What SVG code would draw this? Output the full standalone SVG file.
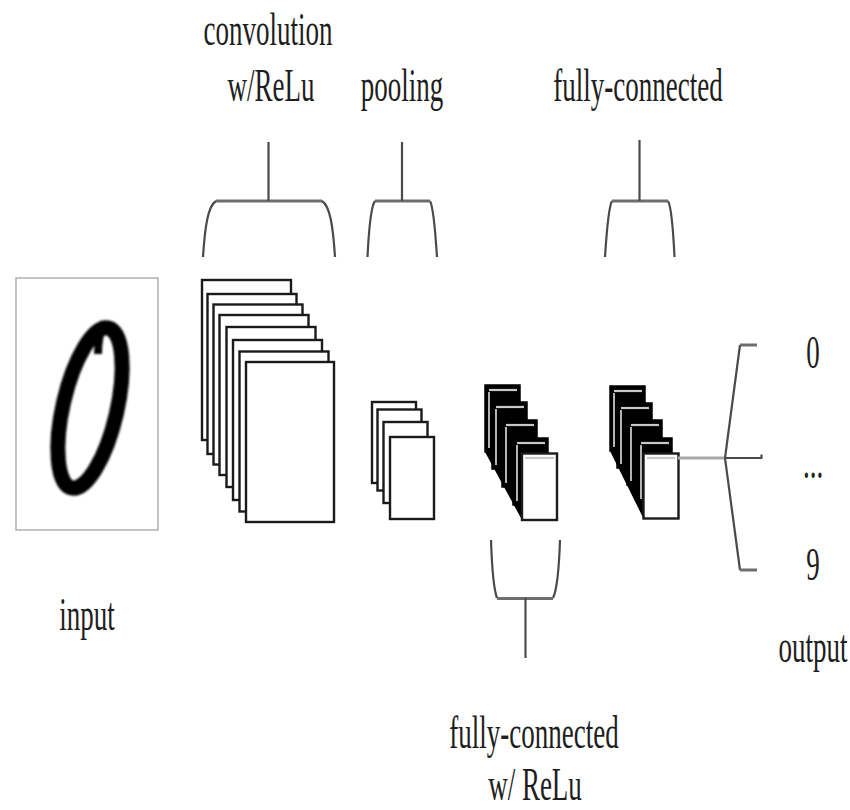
<svg xmlns="http://www.w3.org/2000/svg" width="850" height="810" viewBox="0 0 850 810">
  <style>
    .lbl { font-family: "Liberation Serif", "Times New Roman", serif; font-size: 27px; fill: #1e1e1e; text-anchor: middle; }
    .card { fill: #ffffff; stroke: #1a1a1a; stroke-width: 2.4; }
    .dark { fill: #000000; stroke: #000000; stroke-width: 1.5; }
    .lid { stroke: #c8c8c8; stroke-width: 2.2; }
    .edge { stroke: #ffffff; stroke-width: 1.4; }
    .brace { fill: none; stroke: #4a4a4a; stroke-width: 2.2; stroke-linejoin: round; }
    .bar { fill: none; stroke: #6e6e6e; stroke-width: 3; }
  </style>
  <defs>
    <filter id="soft" x="-20%" y="-20%" width="140%" height="140%">
      <feGaussianBlur stdDeviation="1.3"/>
    </filter>
  </defs>

  <rect width="850" height="810" fill="#ffffff"/>

  <!-- input image with handwritten zero -->
  <g id="input">
    <rect x="16" y="278" width="142" height="252" fill="#ffffff" stroke="#b4b4b4" stroke-width="1.6"/>
    <g filter="url(#soft)">
      <ellipse cx="90" cy="408" rx="27" ry="82" transform="rotate(13 90 408)" fill="none" stroke="#000" stroke-width="15"/>
      <path d="M104 322 Q98 336 98 354" fill="none" stroke="#000" stroke-width="8"/>
    </g>
    <text class="lbl" transform="translate(87,630) scale(1,1.7)">input</text>
  </g>

  <!-- convolution feature maps -->
  <g id="conv">
    <rect class="card" x="202" y="280" width="89" height="160"/>
    <rect class="card" x="207.5" y="294" width="89" height="160"/>
    <rect class="card" x="213.5" y="304.5" width="89" height="160"/>
    <rect class="card" x="219.5" y="315" width="89" height="160"/>
    <rect class="card" x="226.5" y="327" width="89" height="160"/>
    <rect class="card" x="233" y="340" width="89" height="160"/>
    <rect class="card" x="239.5" y="351.5" width="89" height="160"/>
    <rect class="card" x="246" y="362" width="88" height="160"/>
    <text class="lbl" transform="translate(268,45) scale(1,1.7)">convolution</text>
    <text class="lbl" transform="translate(271,101) scale(1,1.7)">w/ReLu</text>
  </g>

  <!-- pooling maps -->
  <g id="pool">
    <rect class="card" x="372" y="402" width="44" height="81"/>
    <rect class="card" x="377.5" y="409.5" width="44" height="81"/>
    <rect class="card" x="383.5" y="422" width="44" height="81"/>
    <rect class="card" x="390" y="437" width="44" height="82"/>
    <text class="lbl" transform="translate(402,101) scale(1,1.7)">pooling</text>
  </g>

  <!-- fully-connected layer with ReLU -->
  <g id="fc1">
    <polygon points="485,385 485,452 522,520 522,453" fill="#000"/>
    <rect class="dark" x="485" y="385" width="35" height="67"/>
    <line class="lid" x1="489" y1="390" x2="517" y2="390"/>
    <line class="edge" x1="489" y1="392" x2="489" y2="448"/>
    <rect class="dark" x="492" y="402" width="35" height="67"/>
    <line class="lid" x1="496" y1="407" x2="524" y2="407"/>
    <line class="edge" x1="496" y1="409" x2="496" y2="465"/>
    <rect class="dark" x="502" y="420" width="35" height="67"/>
    <line class="lid" x1="506" y1="425" x2="534" y2="425"/>
    <line class="edge" x1="506" y1="427" x2="506" y2="483"/>
    <rect class="dark" x="513" y="438" width="35" height="67"/>
    <line class="lid" x1="517" y1="443" x2="545" y2="443"/>
    <line class="edge" x1="517" y1="445" x2="517" y2="501"/>
    <rect class="card" x="522" y="453.5" width="35" height="66.5"/>
    <line class="lid" x1="525" y1="458" x2="554" y2="458"/>
    <text class="lbl" transform="translate(534,748) scale(1,1.7)">fully-connected</text>
    <text class="lbl" transform="translate(535,800) scale(1,1.7)">w/ ReLu</text>
  </g>

  <!-- final fully-connected layer -->
  <g id="fc2">
    <polygon points="610,386 610,451 643.5,518.5 643.5,453.5" fill="#000"/>
    <rect class="dark" x="610" y="386" width="35" height="65"/>
    <line class="lid" x1="614" y1="391" x2="642" y2="391"/>
    <line class="edge" x1="614" y1="393" x2="614" y2="447"/>
    <rect class="dark" x="617" y="403" width="35" height="65"/>
    <line class="lid" x1="621" y1="408" x2="649" y2="408"/>
    <line class="edge" x1="621" y1="410" x2="621" y2="464"/>
    <rect class="dark" x="627" y="420" width="35" height="65"/>
    <line class="lid" x1="631" y1="425" x2="659" y2="425"/>
    <line class="edge" x1="631" y1="427" x2="631" y2="481"/>
    <rect class="dark" x="637" y="438" width="35" height="65"/>
    <line class="lid" x1="641" y1="443" x2="669" y2="443"/>
    <line class="edge" x1="641" y1="445" x2="641" y2="499"/>
    <rect class="card" x="643.5" y="453.5" width="35" height="65"/>
    <line class="lid" x1="647" y1="458" x2="675" y2="458"/>
    <text class="lbl" transform="translate(638,101) scale(1,1.7)">fully-connected</text>
  </g>

  <!-- output classes -->
  <g id="output">
    <text class="lbl" transform="translate(813,368) scale(1,1.7)">0</text>
    <text class="lbl" transform="translate(813,478) scale(1,1.7)">...</text>
    <text class="lbl" transform="translate(813,580) scale(1,1.7)">9</text>
    <text class="lbl" transform="translate(813,662) scale(1,1.7)">output</text>
  </g>

  <!-- braces and connectors -->
  <g id="connectors">
    <!-- convolution brace -->
    <path class="brace" d="M203 257 C205 226 208 206 216 201"/>
    <path class="brace" d="M335 257 C333 226 330 206 322 201"/>
    <line class="bar" x1="216" y1="201" x2="322" y2="201"/>
    <line class="brace" x1="268.5" y1="142" x2="268.5" y2="201"/>
    <!-- pooling brace -->
    <path class="brace" d="M367.5 257 C369 226 371 206 375 201"/>
    <path class="brace" d="M437 257 C435 226 433 206 430 201"/>
    <line class="bar" x1="375" y1="201" x2="430" y2="201"/>
    <line class="brace" x1="402" y1="142" x2="402" y2="201"/>
    <!-- fully-connected brace (top) -->
    <path class="brace" d="M605 257 C607 226 609 206 612 201"/>
    <path class="brace" d="M674.5 257 C673 226 671 206 668 201"/>
    <line class="bar" x1="612" y1="201" x2="668" y2="201"/>
    <line class="brace" x1="639.5" y1="140" x2="639.5" y2="201"/>
    <!-- fully-connected w/ ReLu brace (bottom) -->
    <path class="brace" d="M491 540 C492 570 494 590 497 598"/>
    <path class="brace" d="M560 540 C559 570 557 590 553 598"/>
    <line class="bar" x1="497" y1="598.5" x2="553" y2="598.5"/>
    <line class="brace" x1="525.5" y1="598" x2="525.5" y2="658"/>
    <!-- link to output fan -->
    <line x1="678" y1="458" x2="725" y2="458" stroke="#a8a8a8" stroke-width="3"/>
    <path class="brace" d="M725 458 L761.5 458 L761.5 454.5"/>
    <path class="brace" d="M740 345 L725 458 L740 570"/>
    <line class="bar" x1="740" y1="345" x2="757" y2="345"/>
    <line class="bar" x1="740" y1="570" x2="757" y2="570"/>
  </g>
</svg>
